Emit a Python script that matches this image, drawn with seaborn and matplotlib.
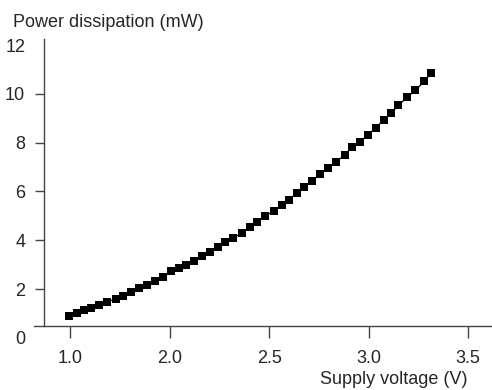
import matplotlib
matplotlib.use("Agg")
import matplotlib.pyplot as plt
import seaborn as sns

# readings from the reference
voltage = [
    1.495, 1.535, 1.570, 1.605, 1.645, 1.685, 1.730, 1.765, 1.805, 1.845,
    1.885, 1.925, 1.965, 2.005, 2.045, 2.085, 2.125, 2.165, 2.205, 2.245,
    2.280, 2.320, 2.365, 2.405, 2.440, 2.480, 2.525, 2.565, 2.600, 2.640,
    2.675, 2.715, 2.755, 2.795, 2.835, 2.880, 2.915, 2.955, 2.995, 3.035,
    3.075, 3.115, 3.150, 3.195, 3.235, 3.280, 3.315,
]
power_mw = [
    0.89, 1.02, 1.14, 1.22, 1.34, 1.47, 1.59, 1.71, 1.88, 2.04,
    2.16, 2.33, 2.49, 2.74, 2.86, 3.00, 3.15, 3.36, 3.52, 3.73,
    3.93, 4.09, 4.30, 4.54, 4.75, 4.99, 5.20, 5.44, 5.65, 5.94,
    6.18, 6.43, 6.71, 6.96, 7.21, 7.49, 7.82, 8.03, 8.31, 8.60,
    8.93, 9.22, 9.54, 9.87, 10.14, 10.52, 10.85,
]
xtick_pos = [1.5, 2.0, 2.5, 3.0, 3.5]
xtick_labels = ["1.0", "2.0", "2.5", "3.0", "3.5"]
ytick_pos = [0, 2, 4, 6, 8, 10, 12]
ytick_labels = ["0", "2", "4", "6", "8", "10", "12"]

sns.set_style("white")
plt.rcParams["font.family"] = ["Liberation Sans", "DejaVu Sans"]
plt.rcParams["font.size"] = 13

fig = plt.figure(figsize=(4.92, 3.90), dpi=100)
ax = fig.add_axes([34 / 492, 1 - 337.8 / 390, 1 - 34 / 492, (337.8 - 39) / 390])

sns.lineplot(
    x=voltage, y=power_mw, ax=ax, color="black", linewidth=0.9,
    marker="s", markersize=5.2, markeredgewidth=0, markerfacecolor="black",
)

ax.set_xlim(1.319, 3.62)
ax.set_ylim(0, 12.25)

spine_color = "#444444"
for side in ["top", "right"]:
    ax.spines[side].set_visible(False)
ax.spines["left"].set_position(("data", 1.369))
ax.spines["left"].set_bounds(0.48, 12.25)
ax.spines["bottom"].set_position(("data", 0.48))
for side in ["left", "bottom"]:
    ax.spines[side].set_color(spine_color)
    ax.spines[side].set_linewidth(1.0)

ax.set_xticks(xtick_pos)
ax.set_xticklabels(xtick_labels)
ax.set_yticks(ytick_pos)
ax.set_yticklabels(ytick_labels)
ax.tick_params(axis="x", direction="out", length=8.5, width=1.0, color=spine_color,
               pad=9, labelsize=13, bottom=True)
ax.tick_params(axis="y", direction="out", length=6.5, width=1.0, color=spine_color,
               pad=7, labelsize=13, left=True)
yticks = ax.yaxis.get_major_ticks()
yticks[0].tick1line.set_visible(False)
yticks[-1].tick1line.set_visible(False)

fig.text(13 / 492, 1 - 27 / 390, "Power dissipation (mW)", fontsize=13,
         ha="left", va="baseline")
fig.text(467 / 492, 1 - 384 / 390, "Supply voltage (V)", fontsize=13,
         ha="right", va="baseline")

fig.savefig("out.png", dpi=100)
plt.close(fig)
